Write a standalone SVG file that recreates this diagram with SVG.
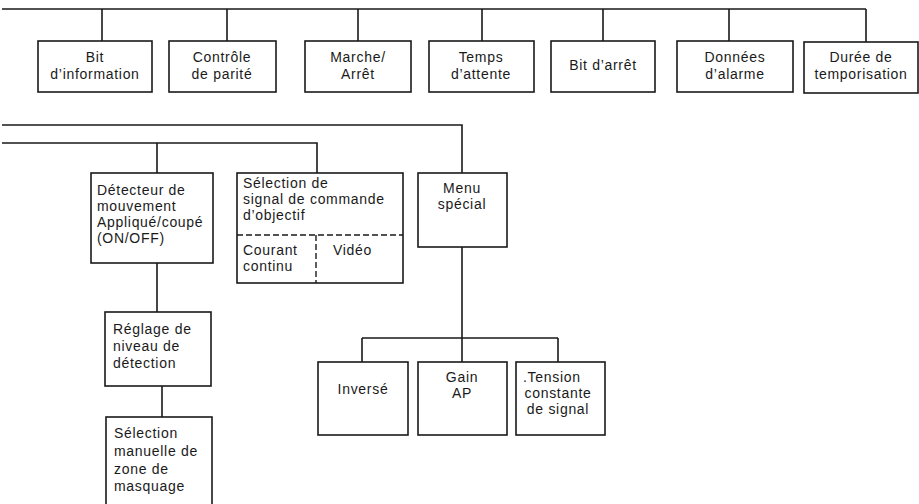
<svg xmlns="http://www.w3.org/2000/svg" width="919" height="504" viewBox="0 0 919 504">
<style>
.box{fill:#fff;stroke:#1a1a1a;stroke-width:1.6}
.ln{fill:none;stroke:#1a1a1a;stroke-width:1.6}
.dash{fill:none;stroke:#1a1a1a;stroke-width:1.4;stroke-dasharray:6 3}
text{font-family:"Liberation Sans",Arial,sans-serif;font-size:14px;fill:#1a1a1a;letter-spacing:0.7px}
.c{text-anchor:middle}
</style>
<rect width="919" height="504" fill="#fff"/>
<g id="connectors">
<path class="ln" d="M2 9H866M102 9V41M227 9V41M358 9V41M482 9V41M603 9V41M729 9V41M866 9V42"/>
<path class="ln" d="M2 125H462V173"/>
<path class="ln" d="M2 143H317V173M157 143V173"/>
<path class="ln" d="M157 263V312M162 386V417"/>
<path class="ln" d="M462 247V362M362 338H558M362 338V362M558 338V362"/>
</g>
<g id="n-bit-info"><rect class="box" x="38" y="41" width="114" height="51"/><text class="c" x="95" y="62">Bit</text><text class="c" x="95" y="79">d’information</text></g>
<g id="n-parite"><rect class="box" x="169" y="41" width="107" height="51"/><text class="c" x="222" y="62">Contrôle</text><text class="c" x="222" y="79">de parité</text></g>
<g id="n-marche"><rect class="box" x="305" y="41" width="106" height="51"/><text class="c" x="358" y="62">Marche/</text><text class="c" x="358" y="79">Arrêt</text></g>
<g id="n-temps"><rect class="box" x="429" y="41" width="105" height="51"/><text class="c" x="481" y="62">Temps</text><text class="c" x="481" y="79">d’attente</text></g>
<g id="n-bit-arret"><rect class="box" x="551" y="41" width="104" height="51"/><text class="c" x="603" y="70">Bit d’arrêt</text></g>
<g id="n-alarme"><rect class="box" x="677" y="41" width="116" height="51"/><text class="c" x="735" y="62">Données</text><text class="c" x="735" y="79">d’alarme</text></g>
<g id="n-tempo"><rect class="box" x="804" y="42" width="114" height="51"/><text class="c" x="861" y="62">Durée de</text><text class="c" x="861" y="79">temporisation</text></g>
<g id="n-detecteur"><rect class="box" x="91" y="173" width="122" height="90"/><text x="97" y="195">Détecteur de</text><text x="97" y="211">mouvement</text><text x="97" y="227">Appliqué/coupé</text><text x="97" y="243">(ON/OFF)</text></g>
<g id="n-selection"><rect class="box" x="237" y="173" width="166" height="110"/><text x="243" y="188">Sélection de</text><text x="243" y="204">signal de commande</text><text x="243" y="220">d’objectif</text><path class="dash" d="M237 235H403M316 235V283"/><text x="243" y="255">Courant</text><text x="243" y="271">continu</text><text x="333" y="255">Vidéo</text></g>
<g id="n-menu"><rect class="box" x="418" y="173" width="89" height="74"/><text class="c" x="462" y="193">Menu</text><text class="c" x="462" y="209">spécial</text></g>
<g id="n-reglage"><rect class="box" x="105" y="312" width="106" height="74"/><text x="113" y="334">Réglage de</text><text x="113" y="351">niveau de</text><text x="113" y="368">détection</text></g>
<g id="n-masquage"><rect class="box" x="106" y="417" width="106" height="100"/><text x="114" y="438">Sélection</text><text x="114" y="456">manuelle de</text><text x="114" y="474">zone de</text><text x="114" y="491">masquage</text></g>
<g id="n-inverse"><rect class="box" x="318" y="362" width="90" height="73"/><text class="c" x="363" y="394">Inversé</text></g>
<g id="n-gain"><rect class="box" x="418" y="362" width="89" height="73"/><text class="c" x="462" y="382">Gain</text><text class="c" x="462" y="398">AP</text></g>
<g id="n-tension"><rect class="box" x="516" y="362" width="89" height="73"/><text x="523" y="382">.Tension</text><text class="c" x="558" y="398">constante</text><text class="c" x="558" y="414">de signal</text></g>
</svg>
